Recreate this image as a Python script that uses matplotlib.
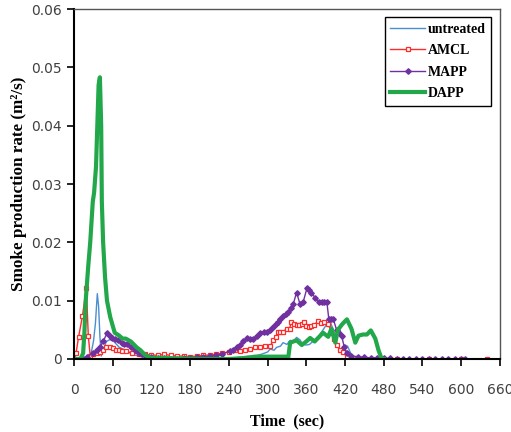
import matplotlib
matplotlib.use('Agg')
import matplotlib.pyplot as plt

# time (sec) and smoke production rate (m2/s)
t_untreated = [0, 10, 20, 25, 30, 33, 36, 38, 40, 42, 45, 50, 55, 60, 70, 80, 90, 100, 110, 120,
               150, 200, 250, 270, 280, 290, 300, 304, 310, 314, 320, 324, 330, 335, 340, 345, 350,
               355, 360, 365, 370, 376, 380, 386, 392, 397, 402, 407, 412, 416, 420, 424, 428, 433,
               440, 480]
untreated = [0, 0, 0, 0.0002, 0.003, 0.006, 0.0112, 0.009, 0.004, 0.0005, 0.0015, 0.003, 0.0033,
             0.0032, 0.002, 0.0015, 0.0008, 0.0005, 0.0002, 0, 0, 0, 0.0002, 0.0005, 0.0005, 0.0008,
             0.0012, 0.0017, 0.0015, 0.002, 0.0022, 0.0028, 0.0025, 0.0032, 0.003, 0.0037, 0.0033,
             0.0025, 0.0024, 0.0025, 0.003, 0.0033, 0.004, 0.005, 0.006, 0.0064, 0.005, 0.0028,
             0.0015, 0.0018, 0.0024, 0.0022, 0.0012, 0.0002, 0, 0]

t_amcl = [0, 3, 7, 13, 19, 22, 25, 30, 35, 40, 45, 50, 55, 60, 65, 70, 75, 80, 90, 100, 110, 120,
          130, 140, 150, 160, 170, 180, 190, 200, 210, 220, 230, 240, 250, 257, 265, 272, 280, 288,
          296, 304, 309, 313, 316, 320, 324, 330, 334, 337, 341, 345, 349, 353, 356, 360, 364, 368,
          372, 378, 383, 388, 394, 399, 403, 407, 412, 417, 423, 430, 440, 460, 500, 550, 600, 640]
amcl = [0, 0.001, 0.0038, 0.0074, 0.0122, 0.004, 0.0005, 0.0008, 0.001, 0.0012, 0.0015, 0.0021,
        0.002, 0.0018, 0.0016, 0.0015, 0.0014, 0.0013, 0.001, 0.0009, 0.0008, 0.0007, 0.0006,
        0.0008, 0.0006, 0.0005, 0.0005, 0.0004, 0.0005, 0.0006, 0.0007, 0.0008, 0.001, 0.0012,
        0.0015, 0.0013, 0.0016, 0.0017, 0.002, 0.002, 0.0022, 0.0022, 0.0032, 0.0038, 0.0047,
        0.0047, 0.0047, 0.0052, 0.0052, 0.0064, 0.006, 0.0058, 0.0058, 0.006, 0.0064, 0.0056,
        0.0054, 0.0056, 0.0058, 0.0065, 0.0062, 0.0063, 0.006, 0.0045, 0.0035, 0.0024, 0.0015,
        0.0012, 0.0003, 0, 0, 0, 0, 0, 0, 0]

t_mapp = [0, 10, 20, 30, 35, 40, 45, 51, 55, 58, 63, 68, 74, 78, 82, 89, 95, 100, 106, 112, 120,
          130, 140, 150, 160, 170, 180, 190, 200, 210, 220, 230, 241, 246, 252, 257, 262, 268, 273,
          278, 283, 288, 294, 299, 304, 309, 313, 316, 320, 324, 328, 332, 336, 340, 345, 350, 355,
          361, 365, 368, 374, 379, 384, 388, 392, 395, 399, 402, 407, 411, 415, 419, 423, 430, 440,
          450, 460, 470, 480, 490, 500, 510, 520, 530, 540, 550, 560, 570, 580, 590, 600, 606]
mapp = [0, 0.0002, 0.0004, 0.001, 0.0015, 0.002, 0.003, 0.0044, 0.004, 0.0036, 0.0034, 0.0033,
        0.0028, 0.0025, 0.0025, 0.002, 0.0015, 0.001, 0.0008, 0.0005, 0.0003, 0.0002, 0.0001, 0,
        0, 0.0001, 0.0002, 0.0003, 0.0004, 0.0005, 0.0006, 0.0008, 0.0014, 0.0016, 0.0021, 0.0024,
        0.003, 0.0036, 0.0035, 0.0034, 0.004, 0.0045, 0.0046, 0.0047, 0.005, 0.0055, 0.006, 0.0064,
        0.0068, 0.0073, 0.0078, 0.0081, 0.0088, 0.0095, 0.0114, 0.0095, 0.0097, 0.0121, 0.0118,
        0.0113, 0.0105, 0.0097, 0.0097, 0.0097, 0.0097, 0.0068, 0.0068, 0.0068, 0.005, 0.0045,
        0.0039, 0.002, 0.0011, 0.0005, 0.0004, 0.0003, 0.0002, 0.0002, 0.0001, 0.0001, 0, 0, 0, 0,
        0, 0, 0, 0, 0, 0, 0, 0]

t_dapp = [0, 5, 10, 14, 16, 18, 22, 25, 29, 31, 34, 36, 38, 40, 42, 43, 45, 48, 51, 56, 63, 70,
          75, 80, 88, 97, 103, 109, 118, 130, 160, 200, 240, 270, 280, 300, 320, 328, 332, 335,
          340, 345, 353, 360, 366, 373, 380, 386, 394, 399, 405, 409, 416, 423, 430, 436, 441, 448,
          454, 460, 467, 472, 477, 480]
dapp = [0, 0, 0, 0.001, 0.0045, 0.01, 0.016, 0.02, 0.027, 0.0285, 0.033, 0.04, 0.047, 0.0483,
        0.04, 0.027, 0.02, 0.014, 0.01, 0.0072, 0.0045, 0.004, 0.0035, 0.0035, 0.003, 0.002, 0.0015,
        0.0008, 0.0002, 0.0002, 0.0001, 0, 0, 0.0002, 0.0004, 0.0004, 0.0004, 0.0004, 0.0002,
        0.0028, 0.003, 0.0032, 0.0024, 0.003, 0.0036, 0.003, 0.0038, 0.0045, 0.0038, 0.0052, 0.0028,
        0.005, 0.006, 0.0068, 0.0052, 0.0028, 0.004, 0.0042, 0.0042, 0.0049, 0.0035, 0.0015, 0, 0]

x_ticks = list(range(0, 661, 60))
y_ticks = [0, 0.01, 0.02, 0.03, 0.04, 0.05, 0.06]
y_tick_labels = ['0', '0.01', '0.02', '0.03', '0.04', '0.05', '0.06']

fig = plt.figure(figsize=(5.11, 4.32), dpi=100)
ax = fig.add_axes([0.145, 0.169, 0.833, 0.81])

ax.plot(t_untreated, untreated, color='#4a8fd0', lw=1.0, label='untreated')
ax.plot(t_amcl, amcl, color='#ff2a2a', lw=1.0, marker='s', ms=3, mfc='white', mec='#ff2a2a',
        mew=0.9, label='AMCL')
ax.plot(t_mapp, mapp, color='#7030a0', lw=1.0, marker='D', ms=2.8, label='MAPP')
ax.plot(t_dapp, dapp, color='#22a84a', lw=3.0, label='DAPP')

ax.set_xlim(0, 660)
ax.set_ylim(0, 0.06)
ax.set_xticks(x_ticks)
ax.set_yticks(y_ticks)
ax.set_yticklabels(y_tick_labels)
ax.tick_params(axis='both', direction='out', length=5, width=1.2, colors='black',
               labelcolor='#404040', labelsize=10)
for lab in ax.get_xticklabels() + ax.get_yticklabels():
    lab.set_fontfamily('DejaVu Sans')
ax.tick_params(axis='x', pad=12)
ax.tick_params(axis='y', pad=4)

for s in ['left', 'bottom']:
    ax.spines[s].set_linewidth(1.5)
    ax.spines[s].set_color('black')
for s in ['top', 'right']:
    ax.spines[s].set_linewidth(1.0)
    ax.spines[s].set_color('#555555')

ax.set_xlabel('Time  (sec)', fontfamily='Liberation Serif', fontweight='bold', fontsize=11.5,
              labelpad=12)
ax.set_ylabel('Smoke production rate (m²/s)', fontfamily='Liberation Serif', fontweight='bold',
              fontsize=12.3, labelpad=3)

leg = ax.legend(loc='upper right', bbox_to_anchor=(0.99, 0.988), fancybox=False, framealpha=1,
                edgecolor='black', handlelength=2.5, borderpad=0.4, labelspacing=0.6,
                handletextpad=0.2, borderaxespad=0.3,
                prop={'family': 'Liberation Serif', 'weight': 'bold', 'size': 10})
leg.get_frame().set_linewidth(1.0)

fig.savefig('out.png', dpi=100)
